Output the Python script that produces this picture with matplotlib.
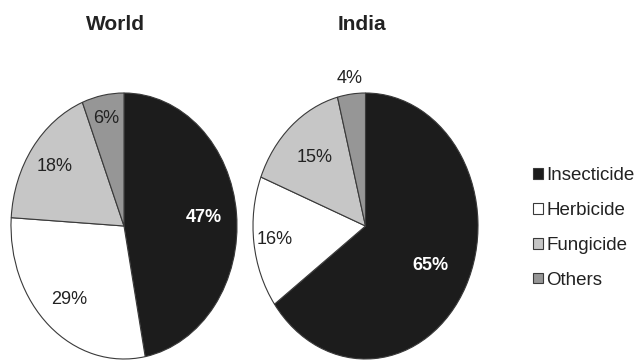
import numpy as np
import matplotlib
matplotlib.use("Agg")
import matplotlib.pyplot as plt

plt.rcParams['font.family'] = ['Liberation Sans', 'DejaVu Sans']

categories = ["Insecticide", "Herbicide", "Fungicide", "Others"]
world_share = [47, 29, 18, 6]
india_share = [65, 16, 15, 4]
titles = ["World", "India"]

colors = ["#1c1c1c", "#ffffff", "#c6c6c6", "#969696"]
text_colors = ["white", "#222222", "#222222", "#222222"]

# label distance from centre (fraction of radius), per slice
world_dist = [0.71, 0.74, 0.76, 0.82]
india_dist = [0.65, 0.81, 0.69, 1.12]

fig = plt.figure(figsize=(6.36, 3.6), dpi=100)
fig.patch.set_facecolor("white")

W, H = 636.0, 360.0
# axes boxes in pixels: left, top, width, height
boxes = [(11, 93, 226, 266), (253, 93, 225, 266)]
title_x = [115, 362]

wedges_world = None
for box, share, dist, title, tx in zip(boxes, [world_share, india_share],
                                       [world_dist, india_dist], titles, title_x):
    l, t, w, h = box
    ax = fig.add_axes([l / W, (H - t - h) / H, w / W, h / H])
    wedges, _ = ax.pie(share, colors=colors, startangle=90, counterclock=False,
                       radius=1.0,
                       wedgeprops=dict(edgecolor="#3a3a3a", linewidth=0.8))
    ax.set_aspect("auto")
    ax.set_xlim(-1.0, 1.0)
    ax.set_ylim(-1.0, 1.0)
    ax.axis("off")
    for wdg, val, d, tc in zip(wedges, share, dist, text_colors):
        mid = np.deg2rad((wdg.theta1 + wdg.theta2) / 2.0)
        ax.text(d * np.cos(mid), d * np.sin(mid), f"{val}%", ha="center",
                va="center", fontsize=13, color=tc,
                fontweight="bold" if tc == "white" else "normal")
    fig.text(tx / W, 1 - 24 / H, title, ha="center", va="center",
             fontsize=15, fontweight="bold", color="#222222")
    if wedges_world is None:
        wedges_world = wedges

leg = fig.legend(wedges_world, categories, loc="center left",
                 bbox_to_anchor=(524 / W, 1 - 228 / H), frameon=False,
                 fontsize=13.5, handlelength=0.5, handleheight=0.5,
                 handletextpad=0.2, labelspacing=0.95, borderpad=0)
for txt in leg.get_texts():
    txt.set_color("#222222")

fig.savefig("out.png", dpi=100, facecolor="white")
